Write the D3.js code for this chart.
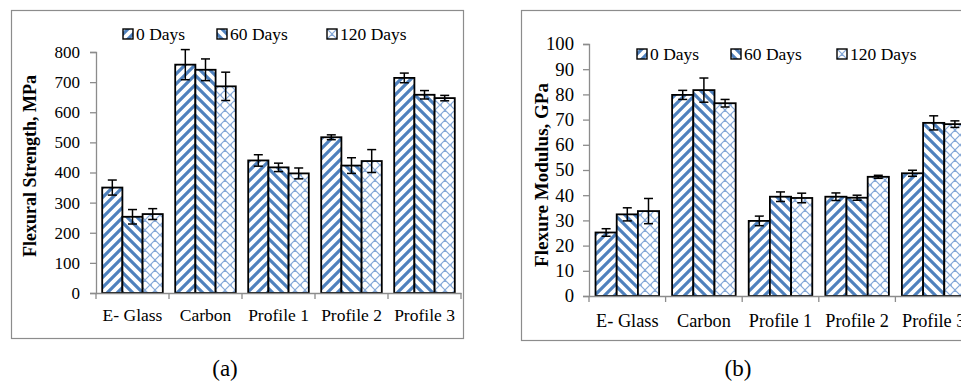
<!DOCTYPE html>
<html>
<head>
<meta charset="utf-8">
<script src="https://cdn.jsdelivr.net/npm/d3@7"></script>
<style>
  body { margin: 0; background: #fff; }
</style>
</head>
<body>
<div id="chart"></div>
<script>
var categories = ["E- Glass", "Carbon", "Profile 1", "Profile 2", "Profile 3"];
var series = ["0 Days", "60 Days", "120 Days"];

// flexural strength, MPa
var strength0 = [350, 758, 440, 517, 714];
var strength60 = [253, 741, 417, 423, 658];
var strength120 = [262, 686, 397, 438, 647];
var strengthErr0 = [25, 50, 19, 8, 16];
var strengthErr60 = [24, 36, 14, 26, 14];
var strengthErr120 = [18, 47, 18, 38, 9];

// flexure modulus, GPa
var modulus0 = [25.2, 79.8, 29.8, 39.4, 48.7];
var modulus60 = [32.4, 81.7, 39.4, 39.0, 68.7];
var modulus120 = [33.7, 76.5, 38.9, 47.3, 68.2];
var modulusErr0 = [1.5, 1.8, 1.9, 1.5, 1.2];
var modulusErr60 = [2.6, 4.8, 1.9, 1.0, 2.8];
var modulusErr120 = [5.0, 1.5, 1.9, 0.6, 1.3];

var strengthTicks = [0, 100, 200, 300, 400, 500, 600, 700, 800];
var modulusTicks = [0, 10, 20, 30, 40, 50, 60, 70, 80, 90, 100];

var blue = "#4f81bd";
var serif = "'Liberation Serif'";

var svg = d3.select("#chart").append("svg")
  .attr("width", 961).attr("height", 382);

// fill patterns, like the excel ones
var defs = svg.append("defs");
function stripes(id, d) {
  var p = defs.append("pattern").attr("id", id)
    .attr("patternUnits", "userSpaceOnUse").attr("width", 10).attr("height", 10);
  p.append("rect").attr("width", 10).attr("height", 10).attr("fill", "#fff");
  p.append("path").attr("d", d).attr("stroke", blue).attr("stroke-width", 3.2).attr("fill", "none");
}
stripes("p0", "M-3,3 L3,-3 M0,10 L10,0 M7,13 L13,7");
stripes("p60", "M-3,7 L3,13 M0,0 L10,10 M7,-3 L13,3");
var lat = defs.append("pattern").attr("id", "p120")
  .attr("patternUnits", "userSpaceOnUse").attr("width", 10).attr("height", 10);
lat.append("rect").attr("width", 10).attr("height", 10).attr("fill", "#fff");
lat.append("path").attr("d", "M0,5 L5,0 L10,5 M0,5 L5,10 L10,5 M5,0 L5,2 M0,5 L2,5")
  .attr("stroke", "#86a9d8").attr("stroke-width", 1.1).attr("fill", "none");
var fills = ["url(#p0)", "url(#p60)", "url(#p120)"];

function drawPanel(cfg) {
  var g = svg.append("g");

  g.append("rect")
    .attr("x", cfg.frame[0] + 0.5).attr("y", cfg.frame[1] + 0.5)
    .attr("width", cfg.frame[2]).attr("height", cfg.frame[3])
    .attr("fill", "#fff").attr("stroke", "#8c8c8c").attr("stroke-width", 1.2);

  var x = d3.scaleBand().domain(categories).range([cfg.left, cfg.right]);
  var xs = d3.scaleBand().domain(series)
    .range([x.bandwidth() * 0.085, x.bandwidth() * 0.915]);
  var y = d3.scaleLinear().domain([0, cfg.max]).range([cfg.bottom, cfg.top]);

  var rows = [];
  categories.forEach(function(c, i) {
    series.forEach(function(s, j) {
      rows.push({ cat: c, ser: s, j: j, v: cfg.values[j][i], e: cfg.errors[j][i] });
    });
  });

  g.selectAll(".bar").data(rows).enter().append("rect")
    .attr("class", "bar")
    .attr("x", function(d) { return x(d.cat) + xs(d.ser); })
    .attr("y", function(d) { return y(d.v); })
    .attr("width", xs.bandwidth())
    .attr("height", function(d) { return y(0) - y(d.v); })
    .attr("fill", function(d) { return fills[d.j]; })
    .attr("stroke", "#000").attr("stroke-width", 1.8);

  // error bars
  var eb = g.selectAll(".err").data(rows).enter().append("g")
    .attr("class", "err")
    .attr("transform", function(d) { return "translate(" + (x(d.cat) + xs(d.ser) + xs.bandwidth() / 2) + ",0)"; })
    .attr("stroke", "#000").attr("stroke-width", 1.5);
  eb.append("line").attr("y1", function(d) { return y(d.v + d.e); }).attr("y2", function(d) { return y(d.v - d.e); });
  eb.append("line").attr("x1", -4.5).attr("x2", 4.5)
    .attr("y1", function(d) { return y(d.v + d.e); }).attr("y2", function(d) { return y(d.v + d.e); });
  eb.append("line").attr("x1", -4.5).attr("x2", 4.5)
    .attr("y1", function(d) { return y(d.v - d.e); }).attr("y2", function(d) { return y(d.v - d.e); });

  // y axis
  var ya = g.append("g").attr("transform", "translate(" + cfg.left + ",0)")
    .call(d3.axisLeft(y).tickValues(cfg.ticks).tickSize(6).tickPadding(cfg.tickPad));
  ya.select(".domain").attr("stroke", "#8c8c8c").attr("stroke-width", 1.3);
  ya.selectAll(".tick line").attr("stroke", "#8c8c8c").attr("stroke-width", 1.3);
  ya.selectAll("text").style("font-family", serif).style("font-size", cfg.tickFont + "px").attr("fill", "#000");

  // x axis: labels centred, ticks on the category edges
  var xa = g.append("g").attr("transform", "translate(0," + cfg.bottom + ")")
    .call(d3.axisBottom(x).tickSize(0).tickPadding(cfg.catPad));
  xa.select(".domain").attr("stroke", "#8c8c8c").attr("stroke-width", 1.3);
  xa.selectAll("text").style("font-family", serif).style("font-size", cfg.catFont + "px").attr("fill", "#000");
  var edges = categories.map(function(c) { return x(c); }).concat([cfg.right]);
  xa.selectAll(".edge").data(edges).enter().append("line")
    .attr("x1", function(d) { return d; }).attr("x2", function(d) { return d; })
    .attr("y1", 0).attr("y2", 6)
    .attr("stroke", "#8c8c8c").attr("stroke-width", 1.3);

  g.append("text")
    .attr("transform", "translate(" + cfg.titleX + "," + cfg.titleY + ") rotate(-90)")
    .attr("text-anchor", "middle").attr("dominant-baseline", "central")
    .style("font-family", serif).style("font-weight", "bold")
    .style("font-size", cfg.titleFont + "px")
    .text(cfg.title);

  // legend
  var lg = g.selectAll(".leg").data(series).enter().append("g")
    .attr("transform", function(d, i) { return "translate(" + cfg.legX[i] + "," + cfg.legY + ")"; });
  lg.append("rect").attr("x", 0).attr("y", -5).attr("width", 10).attr("height", 10)
    .attr("fill", function(d, i) { return fills[i]; })
    .attr("stroke", "#000").attr("stroke-width", 1.4);
  lg.append("text").attr("x", 13).attr("dy", "0.35em")
    .style("font-family", serif).style("font-size", cfg.legFont + "px")
    .text(function(d) { return d; });

  svg.append("text").attr("x", cfg.capX).attr("y", 368).attr("dy", "0.35em")
    .attr("text-anchor", "middle")
    .style("font-family", serif).style("font-size", "23px")
    .text(cfg.caption);
}

drawPanel({
  frame: [11, 10, 452, 328],
  left: 96, right: 461, top: 52, bottom: 293, max: 800,
  ticks: strengthTicks, tickPad: 10, catPad: 16,
  tickFont: 17, catFont: 17.5, legFont: 17.5,
  values: [strength0, strength60, strength120],
  errors: [strengthErr0, strengthErr60, strengthErr120],
  title: "Flexural Strength, MPa", titleX: 30, titleY: 166, titleFont: 18,
  legX: [123, 217, 327], legY: 34,
  caption: "(a)", capX: 225
});

drawPanel({
  frame: [521, 10, 480, 330],
  left: 589, right: 972, top: 44, bottom: 296, max: 100,
  ticks: modulusTicks, tickPad: 9, catPad: 18,
  tickFont: 18.7, catFont: 18.3, legFont: 17.5,
  values: [modulus0, modulus60, modulus120],
  errors: [modulusErr0, modulusErr60, modulusErr120],
  title: "Flexure Modulus, GPa", titleX: 541, titleY: 175, titleFont: 19,
  legX: [637, 731, 837], legY: 54,
  caption: "(b)", capX: 738
});
</script>
</body>
</html>
